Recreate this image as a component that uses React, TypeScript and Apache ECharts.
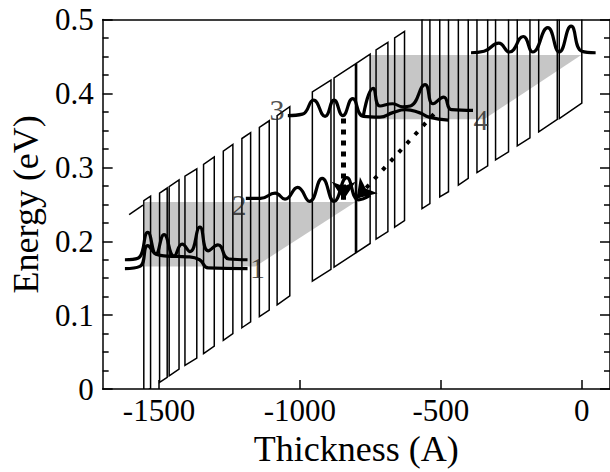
import React, { useEffect, useRef } from "react";
import * as echarts from "echarts";

// ---- axis ticks ----
const xTickValues = [-1500, -1000, -500, 0];
const yTickValues = [0, 0.1, 0.2, 0.3, 0.4, 0.5];

// ---- superlattice layers (parallelograms): edges in Å, energies in eV ----
const layerLeft = [-1554, -1498, -1464, -1408, -1342, -1272, -1206, -1144, -1081, -956, -879, -799, -730, -664, -567, -504, -438, -372, -306, -229, -153, -80];
const layerRight = [-1530, -1471, -1429, -1366, -1304, -1238, -1175, -1109, -1036, -890, -803, -751, -688, -629, -539, -473, -403, -334, -260, -184, -87, 0];
const bottomLeft = [-0.005, 0.009, 0.018, 0.032, 0.048, 0.066, 0.083, 0.098, 0.114, 0.146, 0.165, 0.185, 0.203, 0.219, 0.244, 0.26, 0.276, 0.293, 0.31, 0.329, 0.348, 0.366];
const bottomRight = [0.001, 0.016, 0.027, 0.042, 0.058, 0.075, 0.091, 0.107, 0.126, 0.162, 0.184, 0.197, 0.213, 0.228, 0.251, 0.267, 0.285, 0.302, 0.321, 0.34, 0.365, 0.387];
const topLeft = [0.255, 0.265, 0.274, 0.288, 0.304, 0.322, 0.339, 0.354, 0.37, 0.402, 0.421, 0.441, 0.459, 0.475, 0.5, 0.516, 0.532, 0.549, 0.566, 0.585, 0.604, 0.622];
const topRight = [0.261, 0.272, 0.283, 0.298, 0.314, 0.331, 0.347, 0.363, 0.382, 0.418, 0.44, 0.453, 0.469, 0.484, 0.507, 0.523, 0.541, 0.558, 0.577, 0.596, 0.621, 0.643];

// emitter band edge segment on the left
const emitterEdge: [number, number][] = [[-1606, 0.236], [-1557, 0.249]];

// ---- gray bands ----
const lowerBand: [number, number][] = [[-1550, 0.253], [-803, 0.253], [-1158, 0.166], [-1550, 0.166]];
const upperBand: [number, number][] = [[-751, 0.452], [-2, 0.452], [-347, 0.365], [-751, 0.365]];

// ---- state curves ----
const state1Upper: [number, number][] = [
  [-1621, 0.175], [-1575, 0.177], [-1540, 0.212], [-1511, 0.183], [-1482, 0.209], [-1447, 0.18],
  [-1418, 0.196], [-1390, 0.186], [-1355, 0.219], [-1326, 0.187], [-1291, 0.195], [-1252, 0.176], [-1186, 0.175],
];
const state1Lower: [number, number][] = [
  [-1621, 0.163], [-1568, 0.166], [-1540, 0.194], [-1508, 0.182], [-1471, 0.18], [-1401, 0.179],
  [-1356, 0.175], [-1326, 0.164], [-1186, 0.163],
];
const state2: [number, number][] = [
  [-1192, 0.258], [-1140, 0.258], [-1088, 0.265], [-1053, 0.257], [-1008, 0.273], [-966, 0.254],
  [-921, 0.285], [-879, 0.254], [-834, 0.286], [-792, 0.256], [-751, 0.262],
];
const state3: [number, number][] = [
  [-1043, 0.37], [-991, 0.372], [-952, 0.391], [-911, 0.369], [-879, 0.391], [-848, 0.37], [-813, 0.393],
  [-775, 0.369], [-716, 0.368], [-671, 0.374], [-626, 0.378], [-577, 0.374], [-542, 0.368], [-473, 0.364],
];
const state4: [number, number][] = [
  [-775, 0.37], [-740, 0.407], [-716, 0.383], [-671, 0.386], [-636, 0.382], [-608, 0.383], [-556, 0.412],
  [-528, 0.386], [-490, 0.395], [-462, 0.378], [-386, 0.377],
];
const state5: [number, number][] = [
  [-393, 0.455], [-347, 0.457], [-295, 0.468], [-257, 0.456], [-208, 0.477], [-174, 0.456], [-121, 0.489],
  [-80, 0.456], [-38, 0.491], [0, 0.457], [49, 0.455],
];

// ---- transitions (dotted arrows) ----
const verticalArrow: [number, number][] = [[-845, 0.366], [-845, 0.256]];
const diagonalArrow: [number, number][] = [[-525, 0.372], [-799, 0.258]];

// ---- state labels ----
const stateLabels: [number, number, string][] = [
  [-1151, 0.165, "1"], [-1216, 0.25, "2"], [-1081, 0.378, "3"], [-358, 0.365, "4"],
];

const FONT = "'Liberation Serif', 'Times New Roman', serif";

export default function App() {
  const ref = useRef<HTMLDivElement>(null);
  useEffect(() => {
    if (!ref.current) return;
    const chart = echarts.init(ref.current, null, { renderer: "svg" });

    const layerData = layerLeft.map((xl, i) => [xl, layerRight[i], bottomLeft[i], bottomRight[i], topLeft[i], topRight[i]]);
    const bandData = [lowerBand, upperBand].map((b) => b.flat());

    const curve = (data: [number, number][]) => ({
      type: "line",
      data,
      smooth: 0.5,
      symbol: "none",
      z: 4,
      lineStyle: { color: "#000", width: 3.2 },
    });

    const axisLine = { show: true, onZero: false, lineStyle: { color: "#000", width: 1.5 } };

    chart.setOption({
      animation: false,
      grid: { left: 95, top: 19.5, width: 516, height: 380 },
      xAxis: [
        {
          type: "value", min: -1700, max: 100, position: "bottom",
          axisLine,
          axisTick: { show: true, inside: true, length: 9, customValues: xTickValues, lineStyle: { color: "#000", width: 1.5 } },
          axisLabel: { customValues: xTickValues, fontSize: 31, color: "#000", fontFamily: FONT, margin: 6, formatter: (v: number) => String(v) },
          splitLine: { show: false },
          name: "Thickness (A)", nameLocation: "middle", nameGap: 37,
          nameTextStyle: { fontSize: 36, color: "#000", fontFamily: FONT },
        },
        {
          type: "value", min: -1700, max: 100, position: "top",
          axisLine, axisTick: { show: false }, axisLabel: { show: false }, splitLine: { show: false },
        },
      ],
      yAxis: [
        {
          type: "value", min: 0, max: 0.5, interval: 0.1, position: "left",
          axisLine,
          axisTick: { show: true, inside: true, length: 10, lineStyle: { color: "#000", width: 1.5 } },
          minorTick: { show: true, splitNumber: 4, length: 6, lineStyle: { color: "#000", width: 1.5 } },
          axisLabel: { customValues: yTickValues, fontSize: 31, color: "#000", fontFamily: FONT, margin: 9, formatter: (v: number) => String(v) },
          splitLine: { show: false },
          name: "Energy (eV)", nameLocation: "middle", nameGap: 52,
          nameTextStyle: { fontSize: 36, color: "#000", fontFamily: FONT },
        },
        {
          type: "value", min: 0, max: 0.5, interval: 0.1, position: "right",
          axisLine,
          axisTick: { show: true, inside: true, length: 10, lineStyle: { color: "#000", width: 1.5 } },
          minorTick: { show: true, splitNumber: 4, length: 6, lineStyle: { color: "#000", width: 1.5 } },
          axisLabel: { show: false },
          splitLine: { show: false },
        },
      ],
      series: [
        {
          type: "custom",
          clip: true,
          z: 1,
          data: bandData,
          renderItem: (_p: any, api: any) => {
            const pts = [];
            for (let k = 0; k < 4; k++) pts.push(api.coord([api.value(2 * k), api.value(2 * k + 1)]));
            return { type: "polygon", shape: { points: pts }, style: { fill: "#c6c6c6", stroke: "none" } };
          },
        },
        {
          type: "custom",
          clip: true,
          z: 2,
          data: layerData,
          renderItem: (_p: any, api: any) => {
            const xl = api.value(0), xr = api.value(1);
            const pts = [
              api.coord([xl, api.value(2)]),
              api.coord([xr, api.value(3)]),
              api.coord([xr, api.value(5)]),
              api.coord([xl, api.value(4)]),
            ];
            return { type: "polygon", shape: { points: pts }, style: { fill: "none", stroke: "#000", lineWidth: 1.5 } };
          },
        },
        {
          type: "line", data: emitterEdge, symbol: "none", z: 2,
          lineStyle: { color: "#000", width: 1.5 },
        },
        curve(state1Upper),
        curve(state1Lower),
        curve(state2),
        curve(state3),
        curve(state4),
        curve(state5),
        {
          type: "lines",
          coordinateSystem: "cartesian2d",
          z: 5,
          symbol: ["none", "arrow"],
          symbolSize: 18,
          lineStyle: { color: "#000", width: 5, type: [5, 6], opacity: 1 },
          data: [{ coords: verticalArrow }],
        },
        {
          type: "lines",
          coordinateSystem: "cartesian2d",
          z: 5,
          symbol: ["none", "arrow"],
          symbolSize: 18,
          lineStyle: { color: "#000", width: 4, type: [4, 8], opacity: 1 },
          data: [{ coords: diagonalArrow }],
        },
        {
          type: "scatter",
          z: 6,
          symbolSize: 0,
          data: stateLabels,
          label: {
            show: true, position: "inside", formatter: (p: any) => p.value[2],
            fontSize: 30, color: "#222", fontFamily: FONT,
          },
        },
      ],
    });
    return () => chart.dispose();
  }, []);
  return <div ref={ref} style={{ position: "absolute", left: 0, top: 0, width: 610, height: 472 }} />;
}
